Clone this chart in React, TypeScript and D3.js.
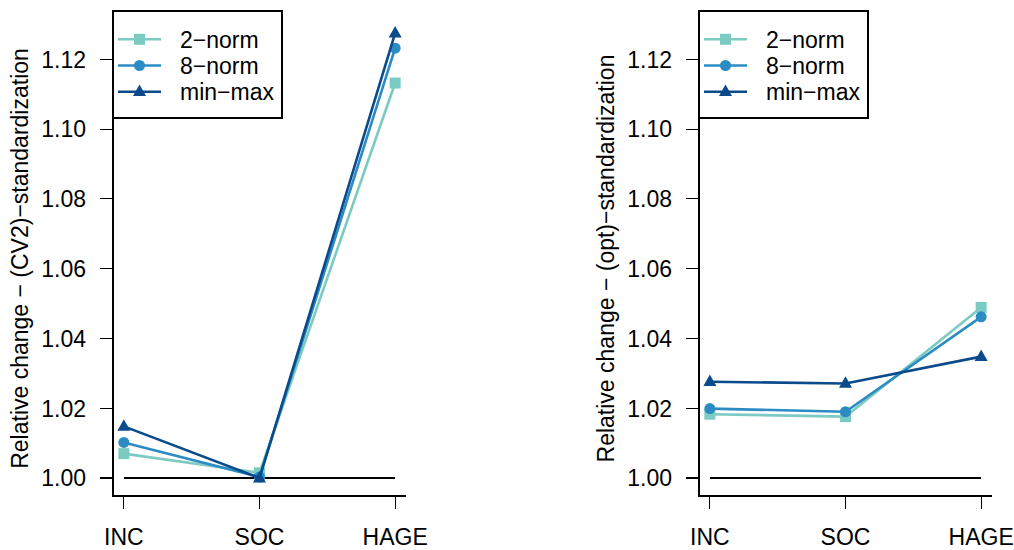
import React from "react";
import * as d3 from "d3";

const categories = ["INC", "SOC", "HAGE"];
const seriesNames = ["2−norm", "8−norm", "min−max"];
const seriesColors = ["#7ccbc2", "#2b8cc4", "#0b4a8b"];
const seriesShapes = ["square", "circle", "triangle"];

// Relative change under (CV2)-standardization
const cv2TwoNorm = [1.007, 1.0015, 1.1132];
const cv2EightNorm = [1.0102, 1.0003, 1.1232];
const cv2MinMax = [1.0148, 1.0, 1.1275];

// Relative change under (opt)-standardization
const optTwoNorm = [1.0183, 1.0176, 1.0489];
const optEightNorm = [1.0199, 1.019, 1.0462];
const optMinMax = [1.0276, 1.0271, 1.0348];

const yTicks = [1.0, 1.02, 1.04, 1.06, 1.08, 1.1, 1.12];
const yLimits = [1.0, 1.1287];

const FONT = "'Liberation Sans', Arial, Helvetica, sans-serif";
const FS = 23;

function Marker({ shape, x, y, color }: { shape: string; x: number; y: number; color: string }) {
  if (shape === "square") {
    const s = 11;
    return <rect x={x - s / 2} y={y - s / 2} width={s} height={s} fill={color} />;
  }
  if (shape === "circle") {
    return <circle cx={x} cy={y} r={5.5} fill={color} />;
  }
  const h = 11.5;
  const w = 13;
  const pts = [
    [x, y - h * 0.62],
    [x - w / 2, y + h * 0.38],
    [x + w / 2, y + h * 0.38],
  ];
  return <polygon points={pts.map((p) => p.join(",")).join(" ")} fill={color} />;
}

function Panel({
  left,
  label,
  series,
}: {
  left: number;
  label: string;
  series: number[][];
}) {
  const top = 11;
  const bottom = 496;
  const width = 293;
  const right = left + width;
  const ext = 0.04 * (yLimits[1] - yLimits[0]);
  const x = d3.scaleLinear().domain([0.92, 3.08]).range([left, right]);
  const y = d3
    .scaleLinear()
    .domain([yLimits[0] - ext, yLimits[1] + ext])
    .range([bottom, top]);
  const line = d3
    .line<number>()
    .x((_, i) => x(i + 1))
    .y((d) => y(d));

  const legendW = 169;
  const legendH = 107;
  const rowY = [39.3, 65.5, 91.7];

  return (
    <g>
      {/* L-shaped frame */}
      <path
        d={`M${left},${top}V${bottom}H${right}`}
        fill="none"
        stroke="#000"
        strokeWidth={1.3}
        shapeRendering="crispEdges"
      />
      {/* reference line at 1 */}
      <line
        x1={x(1)}
        x2={x(3)}
        y1={y(1)}
        y2={y(1)}
        stroke="#000"
        strokeWidth={1.2}
        shapeRendering="crispEdges"
      />
      {/* y axis */}
      {yTicks.map((t) => (
        <g key={t}>
          <line
            x1={left - 13}
            x2={left}
            y1={y(t)}
            y2={y(t)}
            stroke="#000"
            strokeWidth={1.2}
            shapeRendering="crispEdges"
          />
          <text
            x={left - 27}
            y={y(t)}
            dy="0.36em"
            textAnchor="end"
            fontFamily={FONT}
            fontSize={FS}
          >
            {d3.format(".2f")(t)}
          </text>
        </g>
      ))}
      {/* x axis */}
      {categories.map((c, i) => (
        <g key={c}>
          <line
            x1={x(i + 1)}
            x2={x(i + 1)}
            y1={bottom}
            y2={bottom + 13}
            stroke="#000"
            strokeWidth={1.2}
            shapeRendering="crispEdges"
          />
          <text x={x(i + 1)} y={545} textAnchor="middle" fontFamily={FONT} fontSize={FS}>
            {c}
          </text>
        </g>
      ))}
      <text
        transform={`translate(${left - 93},${(top + bottom) / 2 + 5}) rotate(-90)`}
        textAnchor="middle"
        dy="0.36em"
        fontFamily={FONT}
        fontSize={FS}
      >
        {label}
      </text>
      {/* series */}
      {series.map((vals, si) => (
        <g key={si}>
          <path d={line(vals) || ""} fill="none" stroke={seriesColors[si]} strokeWidth={2.6} />
          {vals.map((v, i) => (
            <Marker key={i} shape={seriesShapes[si]} x={x(i + 1)} y={y(v)} color={seriesColors[si]} />
          ))}
        </g>
      ))}
      {/* legend */}
      <rect
        x={left}
        y={top}
        width={legendW}
        height={legendH}
        fill="#fff"
        stroke="#000"
        strokeWidth={1.2}
        shapeRendering="crispEdges"
      />
      {seriesNames.map((n, i) => (
        <g key={n}>
          <line
            x1={left + 5}
            x2={left + 48}
            y1={rowY[i]}
            y2={rowY[i]}
            stroke={seriesColors[i]}
            strokeWidth={2.6}
          />
          <Marker shape={seriesShapes[i]} x={left + 26.5} y={rowY[i]} color={seriesColors[i]} />
          <text x={left + 67} y={rowY[i]} dy="0.36em" fontFamily={FONT} fontSize={FS}>
            {n}
          </text>
        </g>
      ))}
    </g>
  );
}

export default function App() {
  return (
    <svg width={1014} height={550} style={{ display: "block", position: "absolute", left: 0, top: 0 }}>
      <rect width={1014} height={550} fill="#fff" />
      <Panel
        left={113}
        label="Relative change − (CV2)−standardization"
        series={[cv2TwoNorm, cv2EightNorm, cv2MinMax]}
      />
      <Panel
        left={699}
        label="Relative change − (opt)−standardization"
        series={[optTwoNorm, optEightNorm, optMinMax]}
      />
    </svg>
  );
}
